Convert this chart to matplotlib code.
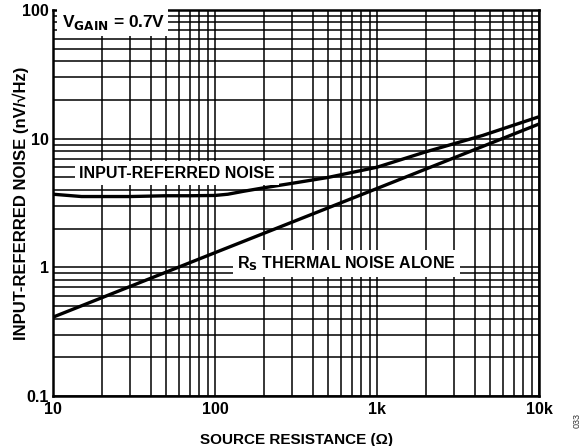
import matplotlib
matplotlib.use("Agg")
import matplotlib.pyplot as plt
from matplotlib.ticker import FixedLocator, FixedFormatter, LogLocator, NullFormatter

plt.rcParams['font.family'] = ['Liberation Sans', 'DejaVu Sans']

# source resistance (ohm) and noise density (nV/rtHz)
r_input = [10, 15, 20, 30, 50, 70, 100, 120, 150, 200, 300, 500, 1000, 2000, 4500, 10000]
v_input = [3.7, 3.55, 3.55, 3.55, 3.6, 3.6, 3.62, 3.7, 3.9, 4.15, 4.5, 5.0, 6.0, 7.9, 10.6, 14.8]

r_thermal = [10, 100, 1000, 10000]
v_thermal = [0.41, 1.3, 4.1, 13.0]

x_ticks = [10, 100, 1000, 10000]
x_labels = ['10', '100', '1k', '10k']
y_ticks = [0.1, 1, 10, 100]
y_labels = ['0.1', '1', '10', '100']

fig = plt.figure(figsize=(5.84, 4.46), dpi=100)
ax = fig.add_axes([53 / 584, 1 - 396 / 446, (539 - 53) / 584, (396 - 10) / 446])

ax.plot(r_input, v_input, color='black', lw=2.4, solid_capstyle='butt', zorder=4)
ax.plot(r_thermal, v_thermal, color='black', lw=2.4, solid_capstyle='butt', zorder=4)

ax.set_xscale('log')
ax.set_yscale('log')
ax.set_xlim(10, 10000)
ax.set_ylim(0.1, 100)

ax.xaxis.set_major_locator(FixedLocator(x_ticks))
ax.xaxis.set_major_formatter(FixedFormatter(x_labels))
ax.yaxis.set_major_locator(FixedLocator(y_ticks))
ax.yaxis.set_major_formatter(FixedFormatter(y_labels))
for axis in (ax.xaxis, ax.yaxis):
    axis.set_minor_locator(LogLocator(base=10, subs=range(2, 10), numticks=20))
    axis.set_minor_formatter(NullFormatter())

ax.grid(True, which='both', color='black', lw=1.1)
ax.set_axisbelow(True)
ax.tick_params(which='both', length=0)
ax.tick_params(axis='x', pad=4)
ax.tick_params(axis='y', pad=3)
for lbl in ax.get_xticklabels() + ax.get_yticklabels():
    lbl.set_fontweight('bold')
    lbl.set_fontsize(11.5)
for sp in ax.spines.values():
    sp.set_linewidth(1.8)

ax.set_xlabel('SOURCE RESISTANCE (Ω)', fontsize=11, fontweight='bold', labelpad=12)
ax.set_ylabel('INPUT-REFERRED NOISE (nV/√Hz)', fontsize=12, fontweight='bold', labelpad=-5)

box = dict(facecolor='white', edgecolor='none', pad=3)
ax.text(11.3, 80, r'V$_{\mathbf{GAIN}}$ = 0.7V', fontsize=12.5, fontweight='bold',
        ha='left', va='center', bbox=box, zorder=5)
ax.text(14.4, 5.4, 'INPUT-REFERRED NOISE', fontsize=11.5, fontweight='bold',
        ha='left', va='center', bbox=box, zorder=5)
ax.text(137, 1.07, r'R$_{\mathbf{S}}$ THERMAL NOISE ALONE', fontsize=11.5, fontweight='bold',
        ha='left', va='center', bbox=box, zorder=5)

fig.text(577 / 584, 1 - 420 / 446, '033', fontsize=6.5, rotation=90,
         ha='center', va='center', color='#333333')

fig.savefig('out.png', dpi=100)
